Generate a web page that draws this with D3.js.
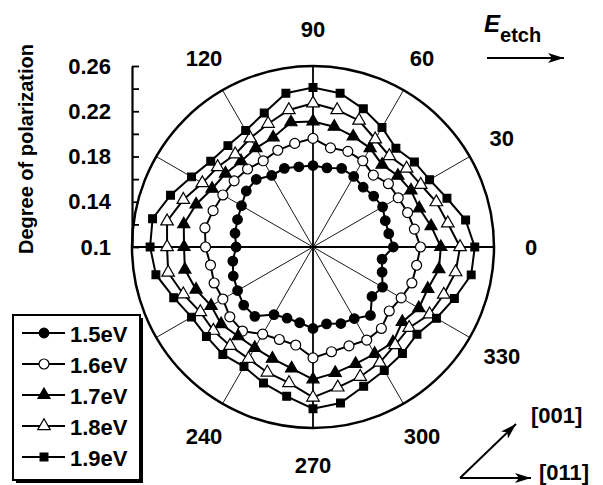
<!DOCTYPE html>
<html>
<head>
<meta charset="utf-8">
<script src="https://cdn.jsdelivr.net/npm/d3@7"></script>
<style>
  body { margin: 0; background: #fff; }
  svg { display: block; font-family: Arial, "Liberation Sans", sans-serif; font-weight: bold; }
</style>
</head>
<body>
<div id="polarChart"></div>
<script>
// Polarization angle (degrees) of every measured point
const angles = [0, 10, 20, 30, 40, 50, 60, 70, 80, 90, 100, 110, 120, 130, 140, 150, 160, 170,
  180, 190, 200, 210, 220, 230, 240, 250, 260, 270, 280, 290, 300, 310, 320, 330, 340, 350];

// Degree of polarization for each photon energy
const pol15 = [0.171, 0.168, 0.168, 0.171, 0.170, 0.169, 0.172, 0.174, 0.171, 0.172, 0.172, 0.174,
  0.173, 0.178, 0.177, 0.173, 0.171, 0.170, 0.168, 0.172, 0.175, 0.177, 0.180, 0.180,
  0.169, 0.167, 0.168, 0.172, 0.169, 0.172, 0.173, 0.179, 0.168, 0.171, 0.165, 0.162];
const pol16 = [0.195, 0.191, 0.189, 0.187, 0.187, 0.183, 0.188, 0.190, 0.189, 0.196, 0.193, 0.191,
  0.188, 0.190, 0.191, 0.192, 0.194, 0.197, 0.195, 0.192, 0.193, 0.192, 0.196, 0.197,
  0.189, 0.187, 0.188, 0.198, 0.194, 0.193, 0.195, 0.194, 0.188, 0.190, 0.193, 0.193];
const pol17 = [0.213, 0.206, 0.200, 0.200, 0.198, 0.195, 0.201, 0.204, 0.208, 0.211, 0.212, 0.203,
  0.201, 0.199, 0.201, 0.203, 0.210, 0.216, 0.214, 0.215, 0.210, 0.204, 0.206, 0.203,
  0.203, 0.205, 0.209, 0.217, 0.213, 0.210, 0.209, 0.210, 0.203, 0.208, 0.208, 0.213];
const pol18 = [0.230, 0.221, 0.216, 0.210, 0.208, 0.205, 0.210, 0.219, 0.223, 0.227, 0.223, 0.216,
  0.211, 0.207, 0.210, 0.213, 0.222, 0.231, 0.229, 0.230, 0.222, 0.215, 0.215, 0.214,
  0.214, 0.218, 0.222, 0.233, 0.226, 0.222, 0.218, 0.213, 0.211, 0.219, 0.223, 0.228];
const pol19 = [0.243, 0.237, 0.226, 0.219, 0.217, 0.214, 0.222, 0.230, 0.238, 0.241, 0.238, 0.226,
  0.219, 0.217, 0.218, 0.224, 0.234, 0.244, 0.244, 0.241, 0.231, 0.224, 0.223, 0.224,
  0.222, 0.228, 0.234, 0.243, 0.240, 0.231, 0.226, 0.223, 0.220, 0.226, 0.233, 0.242];

const seriesNames = ["1.5eV", "1.6eV", "1.7eV", "1.8eV", "1.9eV"];
const seriesValues = [pol15, pol16, pol17, pol18, pol19];

// Axis ticks and labels
const radialTicks = [0.1, 0.12, 0.14, 0.16, 0.18, 0.2, 0.22, 0.24, 0.26];
const radialLabels = [0.1, 0.14, 0.18, 0.22, 0.26];
const spokeAngles = [0, 30, 60, 90, 120, 150, 180, 210, 240, 270, 300, 330];
const angleLabels = [0, 30, 60, 90, 120, 240, 270, 300, 330];

const width = 603;
const height = 485;
const cx = 313;
const cy = 247;
const R = 181;

// Marker style for each series
const markerStyles = [
  { type: d3.symbolCircle, size: 72, fill: "#000" },
  { type: d3.symbolCircle, size: 78, fill: "#fff" },
  { type: d3.symbolTriangle, size: 64, fill: "#000" },
  { type: d3.symbolTriangle, size: 68, fill: "#fff" },
  { type: d3.symbolSquare, size: 60, fill: "#000" },
];

const svg = d3
  .select("#polarChart")
  .append("svg")
  .attr("width", width)
  .attr("height", height);

// Radial scale: 0.1 at the centre, 0.26 at the rim
const rScale = d3.scaleLinear().domain([0.1, 0.26]).range([0, R]);
const yAxisScale = d3.scaleLinear().domain([0.1, 0.26]).range([cy, cy - R]);
const toRad = (deg) => Math.PI / 2 - (deg * Math.PI) / 180;

const g = svg.append("g").attr("transform", `translate(${cx},${cy})`);

// Spokes
g.selectAll(".spoke")
  .data(spokeAngles)
  .enter()
  .append("line")
  .attr("class", "spoke")
  .attr("x1", 0)
  .attr("y1", 0)
  .attr("x2", (d) => d3.pointRadial(toRad(d), R)[0])
  .attr("y2", (d) => d3.pointRadial(toRad(d), R)[1])
  .attr("stroke", "#000")
  .attr("stroke-width", (d) => (d % 90 === 0 ? 1.8 : 0.9));

// Outer circle
g.append("circle")
  .attr("r", R)
  .attr("fill", "none")
  .attr("stroke", "#000")
  .attr("stroke-width", 2.5);

// Angle labels
g.selectAll(".angle-label")
  .data(angleLabels)
  .enter()
  .append("text")
  .attr("class", "angle-label")
  .attr("x", (d) => d3.pointRadial(toRad(d), R + 37)[0])
  .attr("y", (d) => d3.pointRadial(toRad(d), R + 37)[1])
  .attr("text-anchor", "middle")
  .attr("dy", "0.36em")
  .attr("font-size", 22)
  .text((d) => d);

// Series lines and markers
const line = d3
  .lineRadial()
  .angle((d) => toRad(d.angle))
  .radius((d) => rScale(d.value))
  .curve(d3.curveLinearClosed);

seriesValues.forEach((values, i) => {
  const data = angles.map((a, j) => ({ angle: a, value: values[j] }));
  const style = markerStyles[i];

  g.append("path")
    .datum(data)
    .attr("d", line)
    .attr("fill", "none")
    .attr("stroke", "#000")
    .attr("stroke-width", 2);

  g.selectAll(".pt" + i)
    .data(data)
    .enter()
    .append("path")
    .attr("class", "pt" + i)
    .attr("d", d3.symbol().type(style.type).size(style.size))
    .attr("transform", (d) => {
      const p = d3.pointRadial(toRad(d.angle), rScale(d.value));
      return `translate(${p[0]},${p[1]})`;
    })
    .attr("fill", style.fill)
    .attr("stroke", "#000")
    .attr("stroke-width", 1.2);
});

// Radial axis on the left edge
const radialAxis = svg
  .append("g")
  .attr("transform", `translate(${cx - R},0)`)
  .call(
    d3
      .axisLeft(yAxisScale)
      .tickValues(radialTicks)
      .tickSizeInner(-7)
      .tickSizeOuter(0)
      .tickPadding(21)
      .tickFormat((d) =>
        radialLabels.some((l) => Math.abs(l - d) < 1e-9) ? String(+d.toFixed(2)) : ""
      )
  );
radialAxis.select(".domain").attr("stroke", "#000").attr("stroke-width", 2.2);
radialAxis.selectAll(".tick line").attr("stroke", "#000").attr("stroke-width", 1.8);
radialAxis
  .selectAll(".tick text")
  .attr("fill", "#000")
  .attr("font-size", 22)
  .attr("font-weight", "bold")
  .attr("font-family", "Arial, 'Liberation Sans', sans-serif");

// Axis title
svg
  .append("text")
  .attr("transform", "translate(33,149) rotate(-90)")
  .attr("text-anchor", "middle")
  .attr("font-size", 20)
  .text("Degree of polarization");

// Legend
const legend = svg.append("g").attr("transform", "translate(13,315)");
legend
  .append("rect")
  .attr("x", 3)
  .attr("y", 3)
  .attr("width", 127)
  .attr("height", 165)
  .attr("fill", "#000");
legend
  .append("rect")
  .attr("width", 127)
  .attr("height", 165)
  .attr("fill", "#fff")
  .attr("stroke", "#000")
  .attr("stroke-width", 2);

seriesNames.forEach((name, i) => {
  const y = 18 + i * 31;
  const style = markerStyles[i];
  legend
    .append("line")
    .attr("x1", 9)
    .attr("x2", 52)
    .attr("y1", y)
    .attr("y2", y)
    .attr("stroke", "#000")
    .attr("stroke-width", 2);
  legend
    .append("path")
    .attr("d", d3.symbol().type(style.type).size(style.size))
    .attr("transform", `translate(31,${y})`)
    .attr("fill", style.fill)
    .attr("stroke", "#000")
    .attr("stroke-width", 1.2);
  legend
    .append("text")
    .attr("x", 57)
    .attr("y", y)
    .attr("dy", "0.42em")
    .attr("font-size", 22)
    .text(name);
});

// E_etch label and arrow
const defs = svg.append("defs");
defs
  .append("marker")
  .attr("id", "arrow")
  .attr("viewBox", "0 0 16 10")
  .attr("markerWidth", 16)
  .attr("markerHeight", 10)
  .attr("markerUnits", "userSpaceOnUse")
  .attr("refX", 16)
  .attr("refY", 5)
  .attr("orient", "auto")
  .append("path")
  .attr("d", "M0,0 L16,5 L0,10 L4,5 Z")
  .attr("fill", "#000");

const eLabel = svg.append("text").attr("x", 484).attr("y", 32);
eLabel.append("tspan").attr("font-style", "italic").attr("font-size", 24).text("E");
eLabel.append("tspan").attr("font-size", 20).attr("dy", 10).text("etch");

svg
  .append("line")
  .attr("x1", 487)
  .attr("y1", 58)
  .attr("x2", 564)
  .attr("y2", 58)
  .attr("stroke", "#000")
  .attr("stroke-width", 2)
  .attr("marker-end", "url(#arrow)");

// Crystal directions
svg
  .append("line")
  .attr("x1", 460)
  .attr("y1", 478)
  .attr("x2", 531)
  .attr("y2", 478)
  .attr("stroke", "#000")
  .attr("stroke-width", 2)
  .attr("marker-end", "url(#arrow)");
svg
  .append("line")
  .attr("x1", 460)
  .attr("y1", 478)
  .attr("x2", 516)
  .attr("y2", 424)
  .attr("stroke", "#000")
  .attr("stroke-width", 2)
  .attr("marker-end", "url(#arrow)");
svg
  .append("text")
  .attr("x", 531)
  .attr("y", 415)
  .attr("dy", "0.36em")
  .attr("font-size", 22)
  .text("[001]");
svg
  .append("text")
  .attr("x", 539)
  .attr("y", 472)
  .attr("dy", "0.36em")
  .attr("font-size", 22)
  .text("[011]");
</script>
</body>
</html>
